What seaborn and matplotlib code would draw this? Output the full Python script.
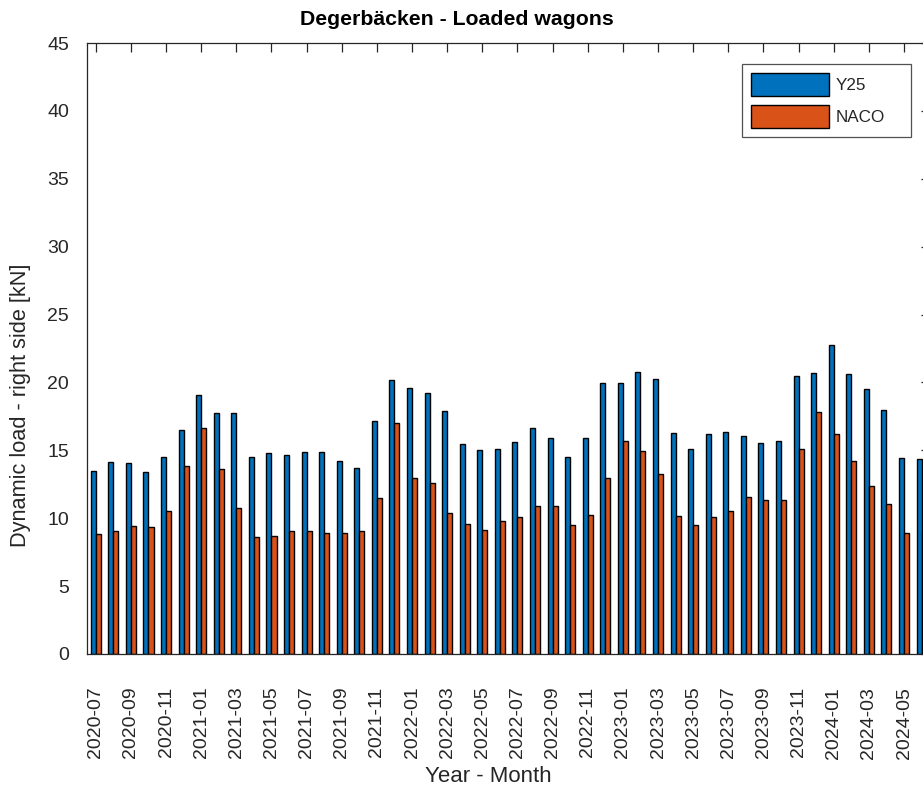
import matplotlib
matplotlib.use("Agg")
import matplotlib.pyplot as plt
import seaborn as sns
import pandas as pd

months = [f"{y}-{m:02d}" for y, m in
          [(2020, m) for m in range(7, 13)] + [(2021, m) for m in range(1, 13)] +
          [(2022, m) for m in range(1, 13)] + [(2023, m) for m in range(1, 13)] +
          [(2024, m) for m in range(1, 7)]]

y25 = [13.48, 14.17, 14.09, 13.43, 14.53, 16.47, 19.09, 17.72, 17.72, 14.53,
       14.83, 14.68, 14.90, 14.90, 14.24, 13.73, 17.13, 20.15, 19.56, 19.24,
       17.92, 15.49, 15.02, 15.10, 15.61, 16.62, 15.88, 14.49, 15.88, 19.93,
       19.98, 20.76, 20.25, 16.25, 15.12, 16.18, 16.35, 16.03, 15.56, 15.71,
       20.47, 20.66, 22.75, 20.64, 19.51, 17.94, 14.41, 14.39]
naco = [8.82, 9.09, 9.41, 9.36, 10.51, 13.85, 16.62, 13.63, 10.74, 8.63,
        8.70, 9.04, 9.07, 8.90, 8.92, 9.09, 11.52, 16.99, 12.97, 12.60,
        10.42, 9.56, 9.14, 9.78, 10.10, 10.91, 10.91, 9.49, 10.25, 12.97,
        15.66, 14.95, 13.28, 10.15, 9.53, 10.12, 10.54, 11.54, 11.35, 11.32,
        15.07, 17.82, 16.18, 14.24, 12.38, 11.08, 8.90, 9.00]
series = ["Y25", "NACO"]
colors = ["#0072BD", "#D95319"]
yticks = list(range(0, 50, 5))

df = pd.DataFrame({
    "month": months * 2,
    "value": y25 + naco,
    "series": [series[0]] * len(months) + [series[1]] * len(months),
})

sns.set_style("white")
plt.rcParams["font.family"] = ["Liberation Sans", "DejaVu Sans"]
ink = "#262626"

fig = plt.figure(figsize=(9.23, 7.87), dpi=100)
ax = fig.add_axes([87 / 923, 133 / 787, 843.4 / 923, 611 / 787])

sns.barplot(data=df, x="month", y="value", hue="series", order=months,
            hue_order=series, palette=colors, width=0.57, edgecolor="black",
            linewidth=1.0, saturation=1, ax=ax, legend=True)

ax.set_xlim(-0.5, len(months) - 0.5)
ax.set_ylim(0, 45)
ax.set_yticks(yticks)
ax.set_xticks(range(0, len(months), 2))
ax.set_xticklabels(months[::2], rotation=90)
ax.set_axisbelow(True)

for s in ax.spines.values():
    s.set_color(ink)
    s.set_linewidth(0.9)
    s.set_visible(True)
ax.tick_params(axis="both", direction="in", length=6.5, width=0.9, color=ink,
               labelcolor=ink, labelsize=14, top=True, right=True)
ax.tick_params(axis="x", pad=23.5)
ax.tick_params(axis="y", pad=13)

ax.set_xlabel("Year - Month", fontsize=16, color=ink)
ax.xaxis.set_label_coords(0.4755, -0.1835)
ax.set_ylabel("Dynamic load - right side [kN]", fontsize=15.7, color=ink)
ax.yaxis.set_label_coords(-0.0664, 0.4075)
ax.set_title("Degerbäcken - Loaded wagons", fontsize=15.3, fontweight="bold",
             color="black", pad=13, x=0.438)

handles, labels = ax.get_legend_handles_labels()
leg = ax.legend(handles, labels, loc="upper left", mode="expand",
                bbox_to_anchor=(742 / 923, 1 - 136 / 787, 169 / 923, 72 / 787),
                bbox_transform=fig.transFigure, fontsize=12.3,
                handlelength=4.6, handleheight=1.7, handletextpad=0.4,
                borderpad=0.5, labelspacing=0.55, borderaxespad=0,
                frameon=True, fancybox=False, edgecolor=ink)
leg.get_frame().set_linewidth(0.9)
for h in leg.legend_handles:
    h.set_edgecolor("black")
    h.set_linewidth(1.0)

fig.savefig("out.png", dpi=100)
